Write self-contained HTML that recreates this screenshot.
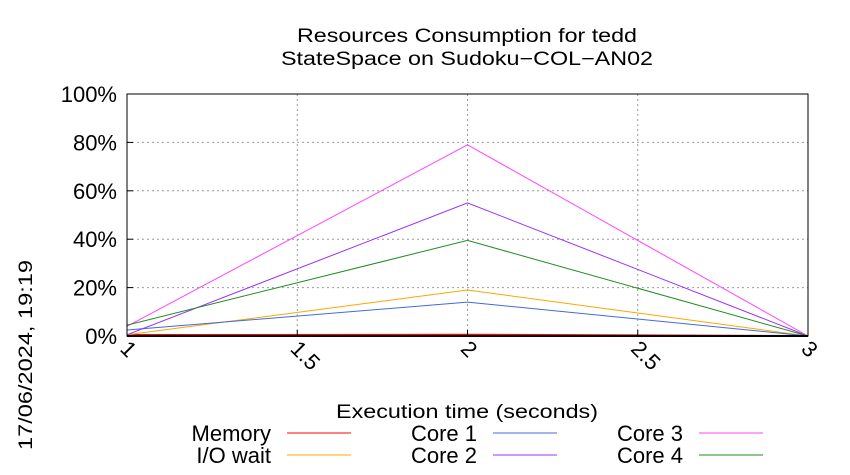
<!DOCTYPE html>
<html><head><meta charset="utf-8"><style>
body{margin:0;background:#fff;}
svg{display:block;font-family:"Liberation Sans",sans-serif;}
</style></head><body>
<svg id="chart" width="850" height="475" viewBox="0 0 850 475">
<text x="467" y="42" text-anchor="middle" font-size="19" textLength="340" lengthAdjust="spacingAndGlyphs">Resources Consumption for tedd</text>
<text x="467" y="65" text-anchor="middle" font-size="19" textLength="372" lengthAdjust="spacingAndGlyphs">StateSpace on Sudoku−COL−AN02</text>
<text transform="translate(32,355) rotate(-90)" text-anchor="middle" font-size="19" textLength="190" lengthAdjust="spacingAndGlyphs">17/06/2024, 19:19</text>
<text x="467" y="418" text-anchor="middle" font-size="19" textLength="262" lengthAdjust="spacingAndGlyphs">Execution time (seconds)</text>
<g id="grid"></g><g id="series"></g><g id="axes"></g><g id="legend"></g>
</svg>
<script>
const xTicks=[1,1.5,2,2.5,3];
const xTickLabels=["1","1.5","2","2.5","3"];
const yTicks=[0,20,40,60,80,100];
const yTickLabels=["0%","20%","40%","60%","80%","100%"];
const times=[1,2,3];
const seriesNames=["Memory","I/O wait","Core 1","Core 2","Core 3","Core 4"];
const seriesColors=["#ff0000","#ffa500","#4169e1","#9b30ff","#ff44ff","#228b22"];
const memory=[0.4,0.5,0];
const ioWait=[0.5,19,0];
const core1=[2.5,14,0];
const core2=[0.5,55,0];
const core3=[4,79,0];
const core4=[4.5,39.5,0];
const allSeries=[memory,ioWait,core1,core2,core3,core4];
const X0=127,X1=808,Y0=336,Y1=94;
const xs=v=>X0+(v-1)/2*(X1-X0);
const ys=v=>Y0-v/100*(Y0-Y1);
const NS="http://www.w3.org/2000/svg";
function mk(tag,attrs,parent){const e=document.createElementNS(NS,tag);for(const k in attrs)e.setAttribute(k,attrs[k]);parent.appendChild(e);return e;}
const grid=document.getElementById('grid'),axes=document.getElementById('axes'),ser=document.getElementById('series'),leg=document.getElementById('legend');
const FS=22;
yTicks.forEach((t,i)=>{
 const y=ys(t);
 if(t>0){const l=mk('line',{x1:X0,x2:X1,y1:y,y2:y,stroke:'#999','stroke-dasharray':'2,3','stroke-width':1},grid);
 
 }
 const tk=mk('line',{x1:X0,x2:X0+6,y1:y,y2:y,stroke:'#000'},axes);
 
 
 const tx=mk('text',{x:X0-10,y:y+8,'text-anchor':'end','font-size':FS},axes);
 tx.textContent=yTickLabels[i];
 
 
});
xTicks.forEach((t,i)=>{
 const x=xs(t);
 if(t>1&&t<3){const l=mk('line',{x1:x,x2:x,y1:Y0,y2:Y1,stroke:'#999','stroke-dasharray':'2,3','stroke-width':1},grid);
 
 }
 const tk=mk('line',{x1:x,x2:x,y1:Y0,y2:Y0-6,stroke:'#000'},axes);
 
 
 const tx=mk('text',{transform:`translate(${x-8},${Y0+14}) rotate(45)`,'font-size':FS},axes);
 tx.textContent=xTickLabels[i];
 
 
});
const frame=mk('rect',{x:X0,y:Y1,width:X1-X0,height:Y0-Y1,fill:'none',stroke:'#000','stroke-width':1},axes);


const base=mk('line',{x1:X0,x2:X1,y1:Y0,y2:Y0,stroke:'#000','stroke-width':2},axes);


const ids=['memory','io-wait','core-1','core-2','core-3','core-4'];
allSeries.forEach((s,i)=>{
 const pts=s.map((v,j)=>xs(times[j])+','+ys(v)).join(' ');
 const p=mk('polyline',{points:pts,fill:'none',stroke:seriesColors[i],'stroke-width':i==0?2:1},ser);
 
 
});
const legPos=[[271,433],[271,455],[477,433],[477,455],[683,433],[683,455]];
seriesNames.forEach((n,i)=>{
 const [x,y]=legPos[i];
 const g=mk('g',{},leg);
 
 
 const t=mk('text',{x:x,y:y+8,'text-anchor':'end','font-size':FS},g);
 t.textContent=n;
 mk('line',{x1:x+16,x2:x+80,y1:y,y2:y,stroke:seriesColors[i],'stroke-width':1},g);
});
</script>
</body></html>
